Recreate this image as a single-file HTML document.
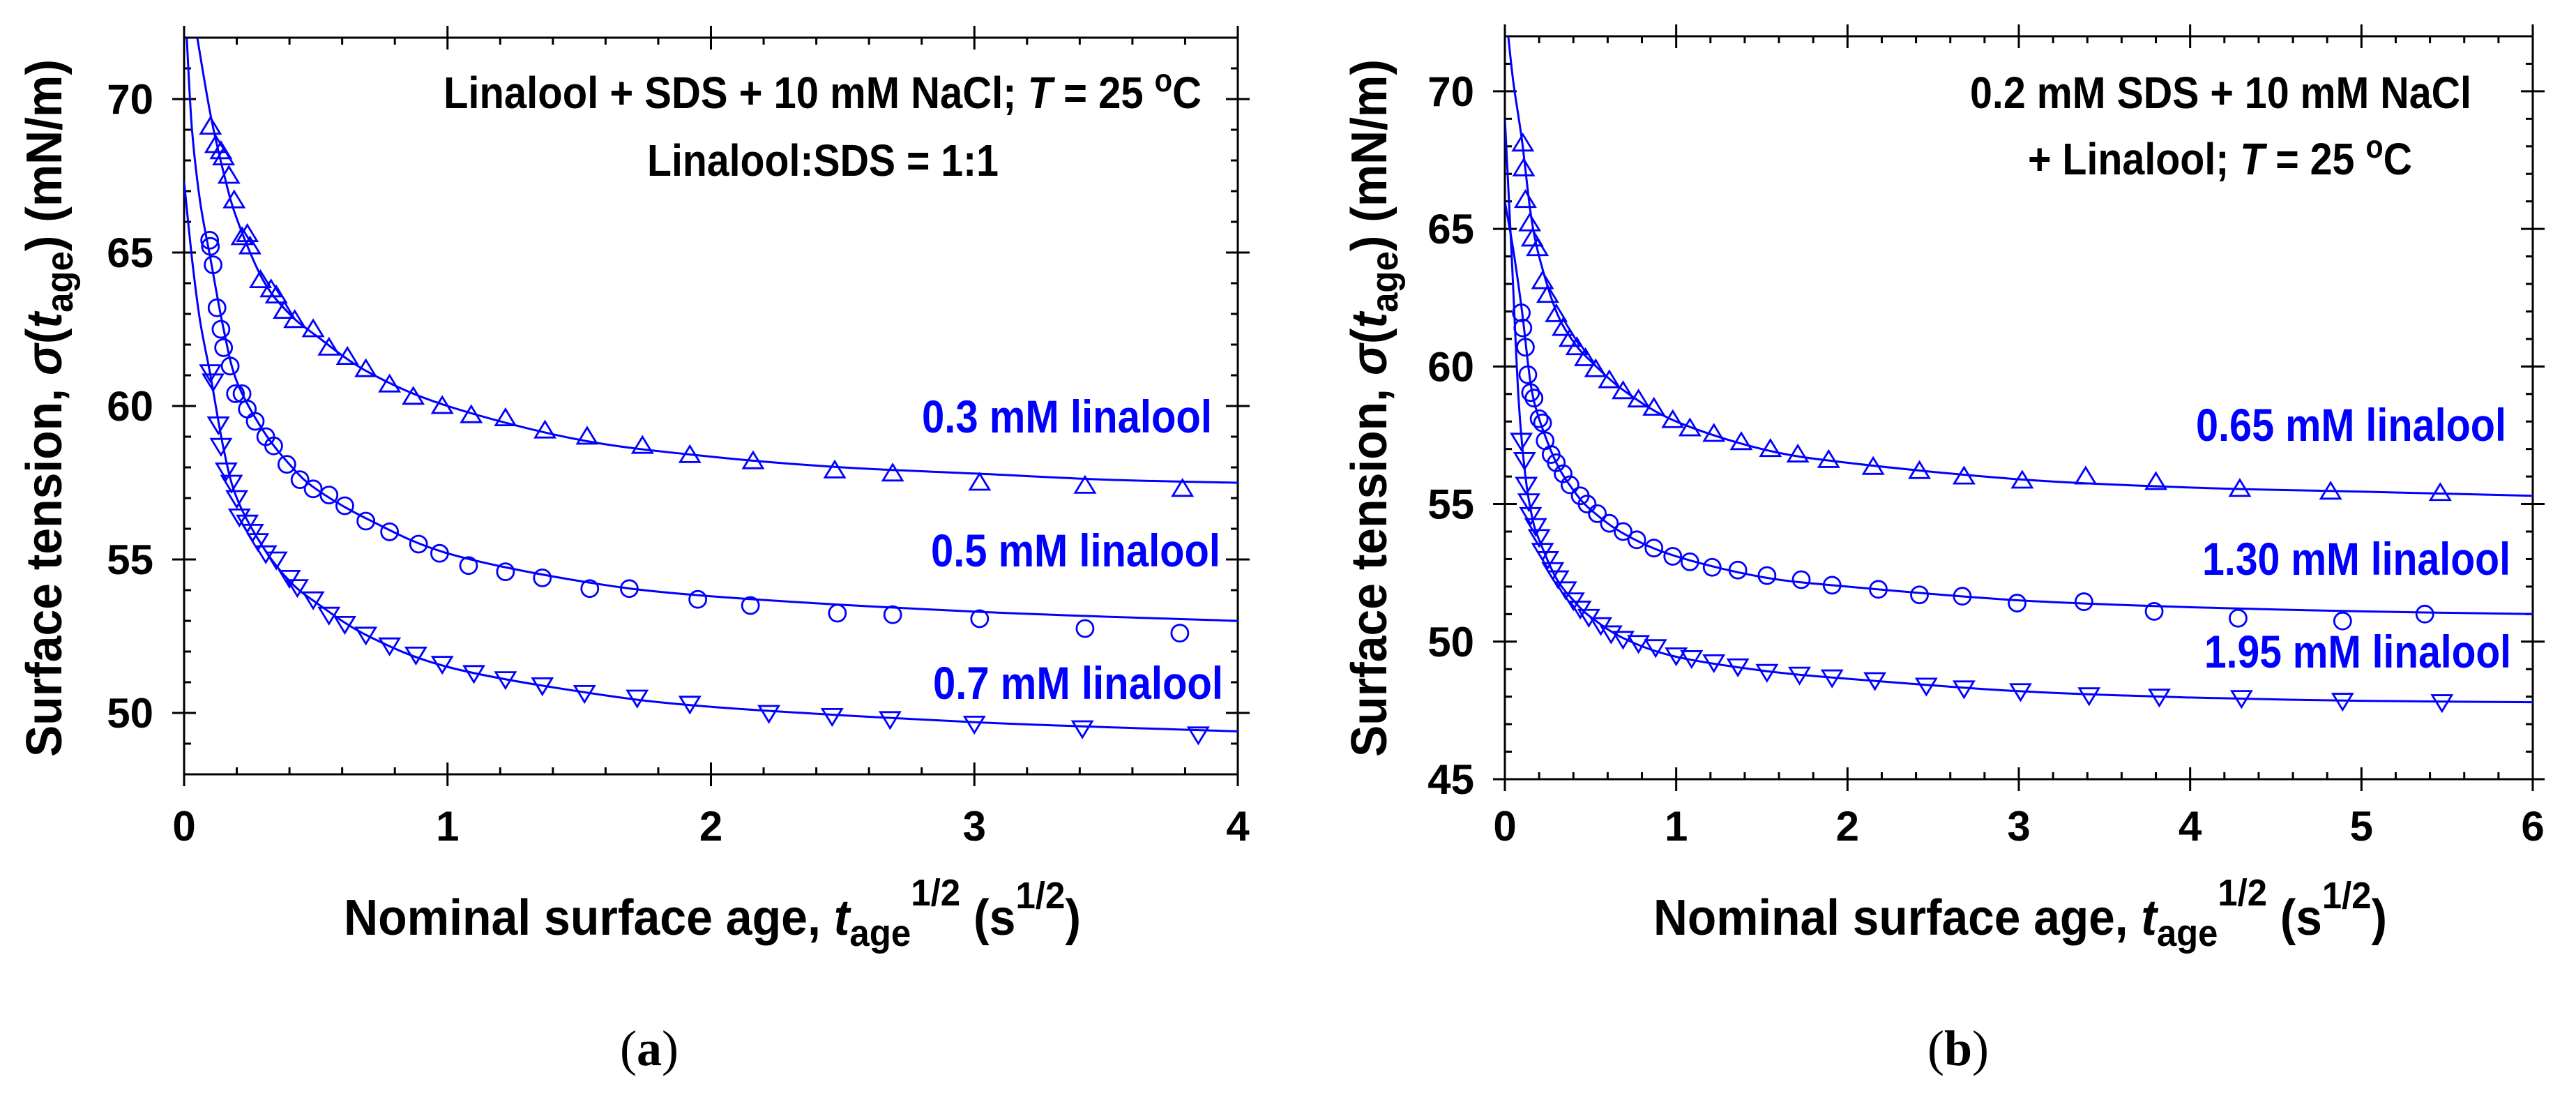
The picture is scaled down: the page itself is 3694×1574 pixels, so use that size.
<!DOCTYPE html>
<html><head><meta charset="utf-8"><style>
html,body{margin:0;padding:0;background:#fff;}
svg{display:block;font-family:"Liberation Sans",Arial,sans-serif;}
</style></head><body>
<svg id="fig" width="3694" height="1574" viewBox="0 0 3694 1574" xmlns="http://www.w3.org/2000/svg">
<g id="pa"></g>
<g id="pb"></g>

<!-- Panel a texts -->
<text x="1723" y="155" text-anchor="end" font-size="64" font-weight="bold" textLength="1087" lengthAdjust="spacingAndGlyphs">Linalool + SDS + 10 mM NaCl; <tspan font-style="italic">T</tspan> = 25 <tspan dy="-24" font-size="46">o</tspan><tspan dy="24">C</tspan></text>
<text x="1180" y="252" text-anchor="middle" font-size="64" font-weight="bold" textLength="504" lengthAdjust="spacingAndGlyphs">Linalool:SDS = 1:1</text>
<text x="1738" y="620" text-anchor="end" font-size="66" font-weight="bold" fill="#0000ff" textLength="416" lengthAdjust="spacingAndGlyphs">0.3 mM linalool</text>
<text x="1750" y="812" text-anchor="end" font-size="66" font-weight="bold" fill="#0000ff" textLength="415" lengthAdjust="spacingAndGlyphs">0.5 mM linalool</text>
<text x="1754" y="1002" text-anchor="end" font-size="66" font-weight="bold" fill="#0000ff" textLength="416" lengthAdjust="spacingAndGlyphs">0.7 mM linalool</text>
<text x="493" y="1340" font-size="72" font-weight="bold" textLength="1057" lengthAdjust="spacingAndGlyphs">Nominal surface age, <tspan font-style="italic">t</tspan><tspan dy="16" font-size="54">age</tspan><tspan dy="-58" font-size="54">1/2</tspan><tspan dy="42"> (s</tspan><tspan dy="-38" font-size="54">1/2</tspan><tspan dy="38">)</tspan></text>
<text transform="translate(88,585) rotate(-90)" text-anchor="middle" font-size="72" font-weight="bold" textLength="1000" lengthAdjust="spacingAndGlyphs">Surface tension, <tspan font-style="italic">σ</tspan>(<tspan font-style="italic">t</tspan><tspan dy="16" font-size="54">age</tspan><tspan dy="-16">) (mN/m)</tspan></text>
<text x="931" y="1527" text-anchor="middle" font-family="Liberation Serif, serif" font-size="72">(<tspan font-weight="bold">a</tspan>)</text>

<!-- Panel b texts -->
<text x="3544" y="155" text-anchor="end" font-size="64" font-weight="bold" textLength="719" lengthAdjust="spacingAndGlyphs">0.2 mM SDS + 10 mM NaCl</text>
<text x="3459" y="250" text-anchor="end" font-size="64" font-weight="bold" textLength="551" lengthAdjust="spacingAndGlyphs">+ Linalool; <tspan font-style="italic">T</tspan> = 25 <tspan dy="-24" font-size="46">o</tspan><tspan dy="24">C</tspan></text>
<text x="3594" y="632" text-anchor="end" font-size="66" font-weight="bold" fill="#0000ff" textLength="445" lengthAdjust="spacingAndGlyphs">0.65 mM linalool</text>
<text x="3600" y="824" text-anchor="end" font-size="66" font-weight="bold" fill="#0000ff" textLength="442" lengthAdjust="spacingAndGlyphs">1.30 mM linalool</text>
<text x="3601" y="957" text-anchor="end" font-size="66" font-weight="bold" fill="#0000ff" textLength="440" lengthAdjust="spacingAndGlyphs">1.95 mM linalool</text>
<text x="2371" y="1340" font-size="72" font-weight="bold" textLength="1052" lengthAdjust="spacingAndGlyphs">Nominal surface age, <tspan font-style="italic">t</tspan><tspan dy="16" font-size="54">age</tspan><tspan dy="-58" font-size="54">1/2</tspan><tspan dy="42"> (s</tspan><tspan dy="-38" font-size="54">1/2</tspan><tspan dy="38">)</tspan></text>
<text transform="translate(1988,585) rotate(-90)" text-anchor="middle" font-size="72" font-weight="bold" textLength="1000" lengthAdjust="spacingAndGlyphs">Surface tension, <tspan font-style="italic">σ</tspan>(<tspan font-style="italic">t</tspan><tspan dy="16" font-size="54">age</tspan><tspan dy="-16">) (mN/m)</tspan></text>
<text x="2808" y="1527" text-anchor="middle" font-family="Liberation Serif, serif" font-size="72">(<tspan font-weight="bold">b</tspan>)</text>
</svg>
<script>
// ---------- Panel (a) data ----------
const aX03 = [0.10,0.12,0.14,0.15,0.17,0.19,0.22,0.24,0.25,0.29,0.33,0.35,0.38,0.42,0.49,0.55,0.62,0.69,0.78,0.87,0.98,1.09,1.22,1.37,1.53,1.74,1.92,2.16,2.47,2.69,3.02,3.42,3.79];
const aY03 = [69.1,68.5,68.3,68.1,67.5,66.7,65.5,65.6,65.2,64.1,63.8,63.6,63.1,62.8,62.5,61.9,61.6,61.2,60.7,60.3,60.0,59.7,59.6,59.2,59.0,58.7,58.4,58.2,57.9,57.8,57.5,57.4,57.3];
const aX05 = [0.097,0.10,0.11,0.125,0.14,0.15,0.175,0.195,0.22,0.24,0.27,0.31,0.34,0.39,0.44,0.49,0.55,0.61,0.69,0.78,0.89,0.97,1.08,1.22,1.36,1.54,1.69,1.95,2.15,2.48,2.69,3.02,3.42,3.78];
const aY05 = [65.4,65.2,64.6,63.2,62.5,61.9,61.3,60.4,60.4,59.9,59.5,59.0,58.7,58.1,57.6,57.3,57.1,56.75,56.25,55.9,55.5,55.2,54.8,54.6,54.4,54.05,54.05,53.7,53.5,53.25,53.2,53.07,52.75,52.6];
const aX07 = [0.10,0.11,0.13,0.14,0.16,0.18,0.20,0.21,0.24,0.26,0.28,0.31,0.35,0.40,0.43,0.49,0.55,0.61,0.69,0.78,0.88,0.98,1.10,1.22,1.36,1.52,1.72,1.92,2.22,2.46,2.68,3.00,3.41,3.85];
const aY07 = [61.1,60.8,59.4,58.7,57.9,57.5,57.0,56.4,56.2,55.9,55.6,55.2,55.0,54.4,54.1,53.7,53.2,52.9,52.55,52.2,51.9,51.6,51.3,51.1,50.9,50.65,50.5,50.3,50.0,49.9,49.8,49.65,49.5,49.3];
const aFitX03 = [0.05,0.1,0.15,0.2,0.3,0.4,0.5,0.7,1,1.5,2,2.5,3,3.5,4];
const aFitY03 = [72,69.5,67.6,66.1,64.1,63.0,62.3,61.1,60.0,58.9,58.35,58.0,57.8,57.6,57.5];
const aFitX05 = [0.01,0.03,0.06,0.1,0.15,0.2,0.3,0.4,0.5,0.7,1,1.5,2,3,4];
const aFitY05 = [72,69,66.7,64.8,62.5,60.8,59.2,58.1,57.3,56.3,55.2,54.3,53.8,53.3,53.0];
const aFitX07 = [0,0.03,0.06,0.1,0.15,0.2,0.3,0.4,0.5,0.7,1,1.5,2,3,4];
const aFitY07 = [67.3,64.8,62.8,61.0,58.6,57.0,55.4,54.3,53.6,52.5,51.5,50.7,50.2,49.7,49.4];
const aXTicks = ["0","1","2","3","4"];
const aYTicks = ["50","55","60","65","70"];

// ---------- Panel (b) data ----------
const bX065 = [0.105,0.11,0.12,0.145,0.16,0.19,0.22,0.25,0.30,0.34,0.38,0.42,0.47,0.53,0.61,0.69,0.78,0.87,0.98,1.08,1.22,1.38,1.55,1.71,1.89,2.15,2.42,2.68,3.02,3.39,3.80,4.29,4.82,5.46];
const bY065 = [68.1,67.2,66.05,65.2,64.65,64.3,63.1,62.6,61.9,61.4,61.0,60.7,60.3,59.9,59.5,59.1,58.8,58.5,58.05,57.75,57.55,57.25,57.0,56.8,56.6,56.35,56.2,56.0,55.85,56.0,55.8,55.55,55.45,55.4];
const bX130 = [0.096,0.105,0.12,0.134,0.15,0.17,0.20,0.22,0.235,0.27,0.30,0.34,0.38,0.44,0.48,0.54,0.61,0.69,0.77,0.87,0.98,1.08,1.21,1.36,1.53,1.73,1.91,2.18,2.42,2.67,2.99,3.38,3.79,4.28,4.89,5.37];
const bY130 = [61.95,61.4,60.7,59.7,59.05,58.85,58.1,57.95,57.3,56.8,56.5,56.1,55.7,55.3,55.0,54.65,54.3,54.0,53.7,53.4,53.1,52.9,52.7,52.6,52.4,52.25,52.05,51.9,51.7,51.65,51.4,51.45,51.1,50.85,50.75,51.0];
const bX195 = [0.096,0.115,0.125,0.14,0.15,0.18,0.20,0.22,0.25,0.28,0.31,0.355,0.40,0.44,0.49,0.56,0.62,0.69,0.78,0.88,1.00,1.09,1.22,1.36,1.53,1.72,1.91,2.16,2.46,2.68,3.01,3.41,3.82,4.30,4.89,5.47];
const bY195 = [57.3,56.6,55.7,55.1,54.6,54.2,53.8,53.3,53.0,52.6,52.3,51.9,51.5,51.2,50.9,50.6,50.3,50.1,49.95,49.8,49.5,49.4,49.25,49.1,48.9,48.8,48.7,48.6,48.4,48.3,48.2,48.05,48.0,47.95,47.85,47.8];
const bFitX065 = [0.02,0.05,0.1,0.15,0.2,0.3,0.4,0.5,0.7,1,1.5,2,3,4,5,6];
const bFitY065 = [72,70.3,68.2,65.6,64.0,62.0,60.9,60.2,59.1,58.0,57.0,56.5,55.9,55.6,55.45,55.3];
const bFitX130 = [0,0.05,0.1,0.15,0.2,0.3,0.4,0.5,0.7,1,1.5,2,3,4,5,6];
const bFitY130 = [66,64.2,62.0,59.4,58.1,56.5,55.5,54.8,53.9,53.1,52.35,52.0,51.5,51.25,51.1,51.0];
const bFitX195 = [0,0.04,0.08,0.12,0.16,0.2,0.3,0.4,0.5,0.7,1,1.5,2,3,4,5,6];
const bFitY195 = [69,64,58.8,56.0,54.5,53.7,52.3,51.5,50.9,50.1,49.45,48.95,48.65,48.2,47.97,47.85,47.8];
const bXTicks = ["0","1","2","3","4","5","6"];
const bYTicks = ["45","50","55","60","65","70"];

const NS = "http://www.w3.org/2000/svg";
const BLUE = "#0000ff";
function mk(parent, tag, attrs) {
  const e = document.createElementNS(NS, tag);
  for (const k in attrs) e.setAttribute(k, attrs[k]);
  parent.appendChild(e);
  return e;
}
function smoothPath(pts) {
  let d = "M" + pts[0][0].toFixed(1) + "," + pts[0][1].toFixed(1);
  for (let i = 0; i < pts.length - 1; i++) {
    const p0 = pts[Math.max(i - 1, 0)], p1 = pts[i], p2 = pts[i + 1], p3 = pts[Math.min(i + 2, pts.length - 1)];
    const c1 = [p1[0] + (p2[0] - p0[0]) / 6, p1[1] + (p2[1] - p0[1]) / 6];
    const c2 = [p2[0] - (p3[0] - p1[0]) / 6, p2[1] - (p3[1] - p1[1]) / 6];
    d += "C" + c1[0].toFixed(1) + "," + c1[1].toFixed(1) + " " + c2[0].toFixed(1) + "," + c2[1].toFixed(1) + " " + p2[0].toFixed(1) + "," + p2[1].toFixed(1);
  }
  return d;
}

function panel(g, cfg) {
  const X = v => cfg.x0 + (v - cfg.xmin) / (cfg.xmax - cfg.xmin) * (cfg.x1 - cfg.x0);
  const Y = v => cfg.y0 - (v - cfg.ymin) / (cfg.ymax - cfg.ymin) * (cfg.y0 - cfg.y1);
  const clipId = cfg.id + "-clip";
  const defs = mk(g, "defs", {});
  const cp = mk(defs, "clipPath", {id: clipId});
  mk(cp, "rect", {x: cfg.x0, y: cfg.y1, width: cfg.x1 - cfg.x0, height: cfg.y0 - cfg.y1});

  const frame = mk(g, "rect", {x: cfg.x0, y: cfg.y1, width: cfg.x1 - cfg.x0, height: cfg.y0 - cfg.y1, fill: "none", stroke: "#000", "stroke-width": 3});
  
  

  const tk = mk(g, "g", {stroke: "#000", "stroke-width": 3});
  
  
  const nx = Math.round((cfg.xmax - cfg.xmin) / 0.2);
  for (let i = 0; i <= nx; i++) {
    const v = cfg.xmin + i * 0.2, x = X(v);
    const major = i % 5 === 0;
    if (major) {
      mk(tk, "line", {x1: x, x2: x, y1: cfg.y0 - 17, y2: cfg.y0 + 17});
      mk(tk, "line", {x1: x, x2: x, y1: cfg.y1 - 17, y2: cfg.y1 + 17});
    } else {
      mk(tk, "line", {x1: x, x2: x, y1: cfg.y0, y2: cfg.y0 - 10});
      mk(tk, "line", {x1: x, x2: x, y1: cfg.y1, y2: cfg.y1 + 10});
    }
  }
  for (let v = cfg.ymin; v <= cfg.ymax; v++) {
    const y = Y(v), major = v % 5 === 0;
    if (major) {
      mk(tk, "line", {x1: cfg.x0 - 17, x2: cfg.x0 + 17, y1: y, y2: y});
      mk(tk, "line", {x1: cfg.x1 - 17, x2: cfg.x1 + 17, y1: y, y2: y});
    } else {
      mk(tk, "line", {x1: cfg.x0, x2: cfg.x0 + 10, y1: y, y2: y});
      mk(tk, "line", {x1: cfg.x1, x2: cfg.x1 - 10, y1: y, y2: y});
    }
  }
  cfg.xTicks.forEach(s => {
    const t = mk(g, "text", {x: X(+s), y: 1205, "text-anchor": "middle", "font-size": 60, "font-weight": "bold"});
    
    
    t.textContent = s;
  });
  cfg.yTicks.forEach(s => {
    const t = mk(g, "text", {x: cfg.x0 - 44, y: Y(+s) + 21, "text-anchor": "end", "font-size": 60, "font-weight": "bold"});
    
    
    t.textContent = s;
  });

  const plot = mk(g, "g", {"clip-path": "url(#" + clipId + ")"});
  cfg.fits.forEach(f => {
    const pts = f.x.map((v, i) => [X(v), Y(f.y[i])]);
    const p = mk(plot, "path", {d: smoothPath(pts), fill: "none", stroke: BLUE, "stroke-width": 3});
    
    
  });
  cfg.series.forEach(s => {
    const sg = mk(g, "g", {fill: "none", stroke: BLUE, "stroke-width": 2.8});
    
    
    s.x.forEach((v, i) => {
      const cx = X(v), cy = Y(s.y[i]);
      let m;
      if (s.shape === "circle") {
        m = mk(sg, "circle", {cx: cx, cy: cy, r: 12});
      } else if (s.shape === "up") {
        m = mk(sg, "polygon", {points: (cx - 14) + "," + (cy + 10) + " " + (cx + 14) + "," + (cy + 10) + " " + cx + "," + (cy - 13)});
      } else {
        m = mk(sg, "polygon", {points: (cx - 14) + "," + (cy - 10) + " " + (cx + 14) + "," + (cy - 10) + " " + cx + "," + (cy + 13)});
      }
      
      
    });
  });
}

panel(document.getElementById("pa"), {
  id: "a", x0: 264, x1: 1775, y0: 1110, y1: 54, xmin: 0, xmax: 4, ymin: 48, ymax: 72,
  xTicks: aXTicks, yTicks: aYTicks,
  fits: [
    {name: "fit-curve-0-3mM", x: aFitX03, y: aFitY03},
    {name: "fit-curve-0-5mM", x: aFitX05, y: aFitY05},
    {name: "fit-curve-0-7mM", x: aFitX07, y: aFitY07}
  ],
  series: [
    {name: "series-0-3mM", shape: "up", x: aX03, y: aY03},
    {name: "series-0-5mM", shape: "circle", x: aX05, y: aY05},
    {name: "series-0-7mM", shape: "down", x: aX07, y: aY07}
  ]
});
panel(document.getElementById("pb"), {
  id: "b", x0: 2158, x1: 3632, y0: 1117, y1: 52, xmin: 0, xmax: 6, ymin: 45, ymax: 72,
  xTicks: bXTicks, yTicks: bYTicks,
  fits: [
    {name: "fit-curve-0-65mM", x: bFitX065, y: bFitY065},
    {name: "fit-curve-1-30mM", x: bFitX130, y: bFitY130},
    {name: "fit-curve-1-95mM", x: bFitX195, y: bFitY195}
  ],
  series: [
    {name: "series-0-65mM", shape: "up", x: bX065, y: bY065},
    {name: "series-1-30mM", shape: "circle", x: bX130, y: bY130},
    {name: "series-1-95mM", shape: "down", x: bX195, y: bY195}
  ]
});
</script>
</body></html>
